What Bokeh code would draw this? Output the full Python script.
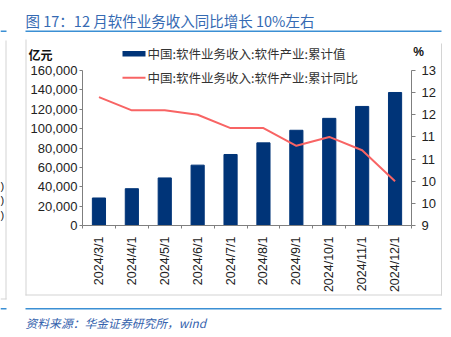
import math
from bokeh.plotting import figure
from bokeh.models import (Range1d, LinearAxis, FixedTicker, NumeralTickFormatter,
                          Label, BoxAnnotation)
from bokeh.embed import file_html
from bokeh.resources import INLINE

# ---------------- data ----------------
dates = ["2024/3/1", "2024/4/1", "2024/5/1", "2024/6/1", "2024/7/1",
         "2024/8/1", "2024/9/1", "2024/10/1", "2024/11/1", "2024/12/1"]
revenue = [28400, 38000, 49100, 62300, 73300, 85300, 98300, 110600, 122900, 137300]  # 亿元
yoy = [11.9, 11.6, 11.6, 11.5, 11.2, 11.2, 10.8, 11.0, 10.7, 10.0]  # %
left_ticks = [0, 20000, 40000, 60000, 80000, 100000, 120000, 140000, 160000]
right_ticks = [9, 9.5, 10, 10.5, 11, 11.5, 12, 12.5]
right_labels = ["9", "10", "10", "11", "11", "12", "12", "13"]
title_text = "图 17：12 月软件业务收入同比增长 10%左右"
source_text = "资料来源：华金证券研究所，wind"
bar_name = "中国:软件业务收入:软件产业:累计值"
line_name = "中国:软件业务收入:软件产业:累计同比"

# ---------------- layout (pixels) ----------------
W, H = 451, 337
PL, PR, PT, PB = 82, 411, 70, 225   # plot area inside the canvas

n = len(dates)
centers = [i + 0.5 for i in range(n)]
edges = [float(i) for i in range(n + 1)]

def stretch(lo, hi, p_lo, p_hi, total, invert=False):
    """Range whose [lo, hi] lands on pixels [p_lo, p_hi] of a 0..total frame."""
    per = (hi - lo) / (p_hi - p_lo)
    if invert:  # pixel grows downwards while value grows upwards
        return Range1d(lo - (total - p_hi) * per, hi + p_lo * per)
    return Range1d(lo - p_lo * per, hi + (total - p_hi) * per)

ymax = left_ticks[-1]
p = figure(width=W, height=H, output_backend="svg", toolbar_location=None,
           x_range=stretch(0, n, PL, PR, W),
           y_range=stretch(0, ymax, PT, PB, H, invert=True),
           x_axis_location=None, y_axis_location=None,
           min_border=0, min_border_left=0, min_border_right=0,
           min_border_top=0, min_border_bottom=0)
p.background_fill_color = "white"
p.border_fill_color = "white"
p.outline_line_color = None
p.grid.visible = False

p.extra_y_ranges = {"pct": stretch(right_ticks[0], right_ticks[-1], PT, PB, H, invert=True),
                    "cy": Range1d(H, 0)}
p.extra_x_ranges = {"cx": Range1d(0, W)}

AX = "#7f7f7f"
TXT = "#222222"
TFONT = "Liberation Sans"

# x axis
xa = LinearAxis(fixed_location=0, bounds=(0, n),
                ticker=FixedTicker(ticks=centers, minor_ticks=edges),
                major_label_overrides={c: d for c, d in zip(centers, dates)})
xa.major_label_orientation = math.pi / 2
xa.major_tick_in = 0
xa.major_tick_out = 0
xa.minor_tick_in = 0
xa.minor_tick_out = 3
xa.minor_tick_line_color = AX
xa.axis_line_color = AX
xa.major_label_standoff = 8
xa.major_label_text_font = TFONT
xa.major_label_text_font_size = "12.5px"
xa.major_label_text_color = TXT
p.add_layout(xa, "below")

# left axis
ya = LinearAxis(fixed_location=0, bounds=(0, ymax), ticker=FixedTicker(ticks=left_ticks),
                formatter=NumeralTickFormatter(format="0,0"))
ya.major_tick_in = 0
ya.major_tick_out = 3
ya.minor_tick_line_color = None
ya.axis_line_color = AX
ya.major_tick_line_color = AX
ya.major_label_standoff = 2
ya.major_label_text_font = TFONT
ya.major_label_text_font_size = "13px"
ya.major_label_text_color = TXT
p.add_layout(ya, "left")

# right axis
ra = LinearAxis(y_range_name="pct", fixed_location=n, bounds=(right_ticks[0], right_ticks[-1]),
                ticker=FixedTicker(ticks=right_ticks),
                major_label_overrides=dict(zip(right_ticks, right_labels)))
ra.major_tick_in = 0
ra.major_tick_out = 4
ra.minor_tick_line_color = None
ra.axis_line_color = AX
ra.major_tick_line_color = AX
ra.major_label_standoff = 6
ra.major_label_text_font = TFONT
ra.major_label_text_font_size = "13px"
ra.major_label_text_color = TXT
p.add_layout(ra, "right")

# ---------------- marks ----------------
BAR = "#003478"
LINE = "#f86464"
p.vbar(x=centers, top=revenue, width=0.4, fill_color=BAR, line_color=BAR)
p.line(x=centers, y=yoy, y_range_name="pct", line_color=LINE, line_width=2)

# ---------------- decorations (canvas pixel coords via cx/cy ranges) ----------------
def box(l, r, t, b, color):
    p.add_layout(BoxAnnotation(left=l, right=r, top=t, bottom=b,
                               x_range_name="cx", y_range_name="cy",
                               fill_color=color, fill_alpha=1.0, line_color=None,
                               level="overlay"))

def label(x, y, text, size, color, font="Noto Sans CJK SC", style="normal", align="left"):
    p.add_layout(Label(x=x, y=y, text=text, x_range_name="cx", y_range_name="cy",
                       text_font=font, text_font_size=size, text_color=color,
                       text_font_style=style, text_align=align, text_baseline="middle"))

BLUE_RULE = "#3b8fd4"
GRAY = "#d4d4d4"
# title and rules
label(25, 20, title_text, "14.5px", "#356ab3")
box(25, 441, 30, 31.5, BLUE_RULE)
box(0, 6, 30, 31.5, BLUE_RULE)
box(25, 441, 307.5, 309, BLUE_RULE)
box(0, 6, 307.5, 309, BLUE_RULE)
# chart frame (gray)
box(25, 26, 39, 295, GRAY)
box(440.5, 441.5, 43, 295, GRAY)
box(25, 441.5, 294, 295, GRAY)
# left neighbour fragment
box(5, 6, 40, 299, GRAY)
box(0, 6, 298, 299, GRAY)
for yy in (185, 199, 214):
    label(0, yy, ")", "11px", TXT, font=TFONT)

# units
label(28, 54, "亿元", "12px", "#111111", style="bold")
label(418, 51, "%", "12px", "#111111", font=TFONT, style="bold", align="center")

# legend
box(122, 145, 50.5, 56, BAR)
label(147, 53, bar_name, "12.5px", "#333333")
box(122, 145, 76.3, 78.3, LINE)
label(147, 77, line_name, "12.5px", "#333333")

# source
label(25, 322, source_text, "11.8px", "#3462ad", style="italic")

open("out.html", "w").write(file_html(p, INLINE))
